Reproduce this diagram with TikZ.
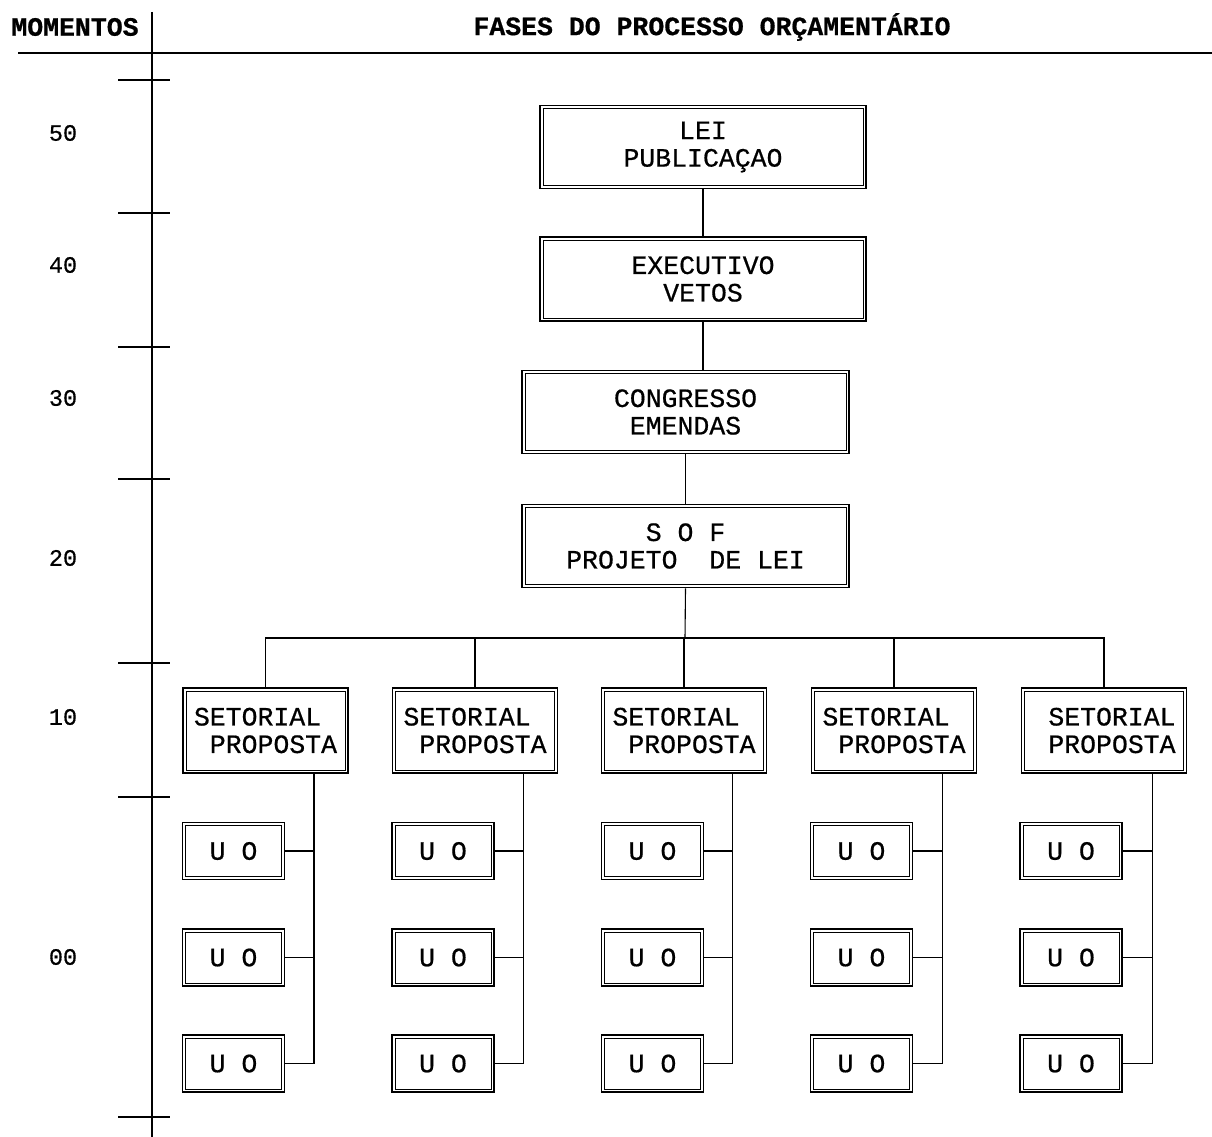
\documentclass[tikz,border=0pt]{standalone}
\usepackage{fontspec}
\setmonofont[FakeBold=0.6]{Liberation Mono}
\begin{document}
\begin{tikzpicture}[x=1pt,y=-1pt,
  txt/.style={font=\ttfamily\fontsize{26.5}{27.5}\selectfont, align=center, inner sep=0pt},
  hdr/.style={font=\ttfamily\bfseries\fontsize{26.5}{27}\selectfont, inner sep=0pt},
  num/.style={font=\ttfamily\fontsize{23.5}{25}\selectfont, inner sep=0pt},
  box/.style={txt, draw, line width=1.8pt, minimum width=#1, minimum height=83},
  setbox/.style={txt, draw, line width=1.8pt, minimum width=165, minimum height=85, align=left},
  uobox/.style={txt, draw, line width=1.8pt, minimum width=102, minimum height=57},
  conn/.style={line width=1.1pt},
  axis/.style={line width=1.4pt}]
\useasboundingbox (0,0) rectangle (1212,1137);

% header and axis
\node[hdr] (mom) at (75,27) {MOMENTOS};
\node[hdr] (fases) at (712,27) {FASES DO PROCESSO ORÇAMENTÁRIO};
\coordinate (hl) at (18,53); \coordinate (hr) at (1212,53);
\draw[line width=1.8pt] (hl) -- (hr);
\coordinate (at) at (152,12); \coordinate (ab) at (152,1137);
\draw[axis] (at) -- (ab);
\foreach \y in {80,213,347,479,663,797,1117}
  \draw[axis] (118,\y) -- (170,\y);
\foreach \lab/\y [count=\i] in {50/133,40/265,30/398,20/558,10/717,00/957}
  \node[num] (m\i) at (63,\y) {\lab};

% top chain
\node[box=326] (lei) at (703,147) {LEI\\PUBLICAÇAO};
\node[box=326, minimum height=84] (exe) at (703,279) {EXECUTIVO\\VETOS};
\node[box=327] (con) at (685.5,412) {CONGRESSO\\EMENDAS};
\node[box=327] (sof) at (685.5,546) {S O F\\PROJETO\ \ DE LEI};

\draw[conn] (lei.south) -- (exe.north);
\draw[conn] (exe.south) -- (exe.south |- con.north);
\draw[line width=1.6pt] (con.south) -- (sof.north);

% setoriais
\node[setbox] (s1) at (265.5,730.5) {SETORIAL\\\ PROPOSTA};
\node[setbox] (s2) at (475,730.5) {SETORIAL\\\ PROPOSTA};
\node[setbox] (s3) at (684,730.5) {SETORIAL\\\ PROPOSTA};
\node[setbox] (s4) at (894,730.5) {SETORIAL\\\ PROPOSTA};
\node[setbox] (s5) at (1104,730.5) {\ SETORIAL\\\ PROPOSTA};

\coordinate (bus) at (685,638);
\draw[conn] (sof.south) -- (bus);
\draw[conn] (s1.north) -- (s1.north |- bus) -- (s5.north |- bus) -- (s5.north);
\foreach \s in {s2,s3,s4}
  \draw[conn] (\s.north) -- (\s.north |- bus);

% UO boxes
\foreach \c/\x in {1/233.5,2/443,3/652.5,4/861.5,5/1071}{
  \foreach \r/\y in {a/851,b/957.5,c/1063.5}{
    \node[uobox] (u\c\r) at (\x,\y) {U O};
  }
}

% spines
\foreach \c in {1,...,5}{
  \coordinate (sp\c) at ([xshift=48.5]s\c.south);
  \draw[conn] (sp\c) -- (sp\c |- u\c c.east) -- (u\c c.east);
  \draw[conn] (u\c a.east) -- (u\c a.east -| sp\c);
  \draw[conn] (u\c b.east) -- (u\c b.east -| sp\c);
}

% inner lines of double borders
\foreach \n in {lei,exe,con,sof,s1,s2,s3,s4,s5,u1a,u1b,u1c,u2a,u2b,u2c,u3a,u3b,u3c,u4a,u4b,u4c,u5a,u5b,u5c}
  \draw[line width=0.8pt] ([shift={(3.8,3.8)}]\n.north west) rectangle ([shift={(-3.8,-3.8)}]\n.south east);
\end{tikzpicture}
\end{document}
